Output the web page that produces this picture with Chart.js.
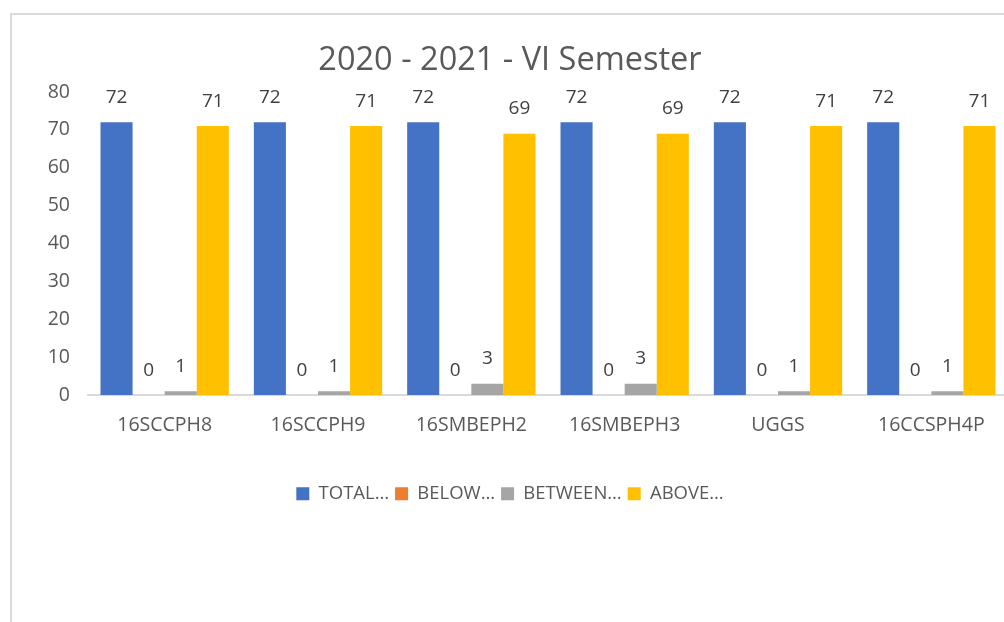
<!DOCTYPE html>
<html>
<head>
<meta charset="utf-8">
<script src="https://cdn.jsdelivr.net/npm/chart.js@4"></script>
<style>
  html, body { margin: 0; padding: 0; background: #fff; overflow: hidden; }
  #box { position: absolute; left: 10px; top: 13px; width: 1000px; height: 620px;
         border: 2px solid #d9d9d9; box-sizing: border-box; }
  #chart { display: block; }
</style>
</head>
<body>
<div id="box"><canvas id="chart" width="1000" height="620"></canvas></div>
<script>
const categories = ['16SCCPH8', '16SCCPH9', '16SMBEPH2', '16SMBEPH3', 'UGGS', '16CCSPH4P'];
const seriesNames = ['TOTAL…', 'BELOW…', 'BETWEEN…', 'ABOVE…'];
const totalVals = [72, 72, 72, 72, 72, 72];
const belowVals = [0, 0, 0, 0, 0, 0];
const betweenVals = [1, 1, 3, 3, 1, 1];
const aboveVals = [71, 71, 69, 69, 71, 71];
const colors = ['#4472C4', '#ED7D31', '#A5A5A5', '#FFC000'];
const yTicks = [0, 10, 20, 30, 40, 50, 60, 70, 80];

const font = '"Open Sans", "Noto Sans", sans-serif';

// value labels above every bar
const valueLabels = {
  id: 'valueLabels',
  afterDatasetsDraw(chart) {
    const ctx = chart.ctx;
    ctx.save();
    ctx.font = '19px ' + font;
    ctx.fillStyle = '#404040';
    ctx.textAlign = 'center';
    ctx.textBaseline = 'middle';
    chart.data.datasets.forEach((ds, i) => {
      chart.getDatasetMeta(i).data.forEach((bar, j) => {
        ctx.fillText(ds.data[j], bar.x, bar.y - 25);
      });
    });
    ctx.restore();
  }
};

const allVals = [totalVals, belowVals, betweenVals, aboveVals];

new Chart(document.getElementById('chart'), {
  type: 'bar',
  data: {
    labels: categories,
    datasets: seriesNames.map((name, i) => ({
      label: name,
      data: allVals[i],
      backgroundColor: colors[i],
      borderWidth: 0,
      categoryPercentage: 0.837,
      barPercentage: 1
    }))
  },
  options: {
    responsive: false,
    animation: false,
    layout: { padding: { left: 0, right: 4, top: 0, bottom: 122 } },
    plugins: {
      title: {
        display: true,
        text: '2020 - 2021 - VI Semester',
        color: '#595959',
        font: { family: font, size: 32.5, weight: 'normal' },
        padding: { top: 26, bottom: 12 }
      },
      legend: {
        position: 'bottom',
        labels: {
          color: '#595959',
          font: { family: font, size: 18.5 },
          boxWidth: 13,
          boxHeight: 13,
          padding: 6
        }
      },
      tooltip: { enabled: false }
    },
    scales: {
      x: {
        afterFit: axis => { axis.height += 22; },
        grid: { display: false, drawTicks: false },
        border: { display: true, color: '#d9d9d9', width: 2 },
        ticks: { color: '#595959', font: { family: font, size: 19.5 }, padding: 19 }
      },
      y: {
        min: 0,
        max: 80,
        afterBuildTicks: axis => { axis.ticks = yTicks.map(v => ({ value: v })); },
        afterFit: axis => { axis.width = 76; },
        grid: { display: false, drawTicks: false },
        border: { display: false },
        ticks: { color: '#595959', font: { family: font, size: 19.5 }, padding: 18 }
      }
    }
  },
  plugins: [valueLabels]
});
</script>
</body>
</html>
